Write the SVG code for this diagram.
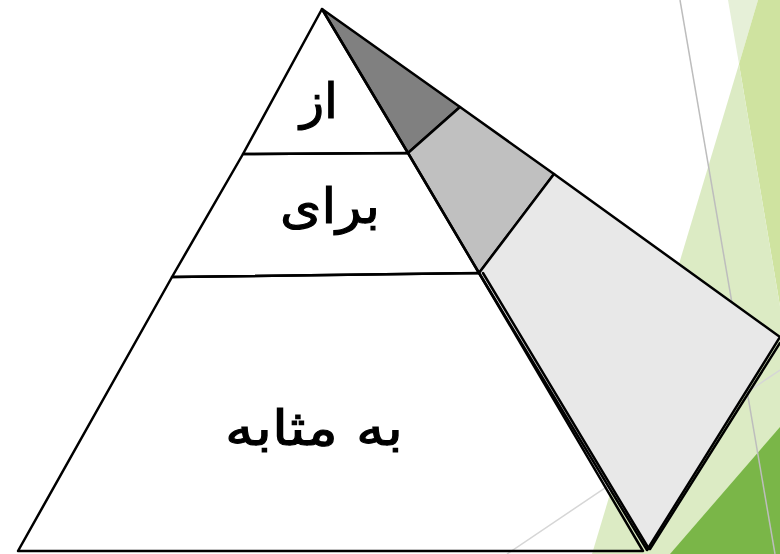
<svg xmlns="http://www.w3.org/2000/svg" width="780" height="554" viewBox="0 0 780 554">
  <style>
    .edge{fill:none;stroke:#000;stroke-width:2.5;stroke-linejoin:round;stroke-linecap:round}
    .face{stroke:#000;stroke-width:2.5;stroke-linejoin:round}
    .lbl{font-family:"DejaVu Sans","Noto Sans",sans-serif;font-size:49px;fill:#000;stroke:#000;stroke-width:1.1;text-anchor:middle}
  </style>
  <rect width="780" height="554" fill="#ffffff"/>
  <g id="background">
    <polygon points="728,0 758,0 739,64" fill="#e6f0d8"/>
    <polygon points="758,0 780,0 780,306 739,64" fill="#cfe3a0"/>
    <polygon points="739,64 780,306 780,554 592,554" fill="#dcebc4"/>
    <polygon points="670,554 780,427 780,554" fill="#7ab648"/>
    <line x1="680" y1="0" x2="775" y2="554" stroke="#bdbdbd" stroke-width="1.5"/>
    <line x1="507" y1="554" x2="780" y2="370" stroke="#d6d6d6" stroke-width="1.5"/>
  </g>
  <g id="side-top">
    <polygon class="face" points="322,9 460,107 408,153" fill="#808080"/>
  </g>
  <g id="side-middle">
    <polygon class="face" points="408,153 460,107 554,174 479,273" fill="#c0c0c0"/>
  </g>
  <g id="side-bottom">
    <polygon class="face" points="479,273 554,174 780,337 647,550" fill="#e8e8e8"/>
    <line class="edge" x1="483" y1="273" x2="649" y2="549"/>
    <line class="edge" x1="780" y1="343" x2="650" y2="549"/>
  </g>
  <g id="front-top">
    <polygon class="face" points="322,9 408,153 243,154" fill="none"/>
    <text class="lbl" x="319" y="118" direction="rtl" textLength="38" lengthAdjust="spacingAndGlyphs">از</text>
  </g>
  <g id="front-middle">
    <polygon class="face" points="243,154 408,153 479,273 172,277" fill="none"/>
    <text class="lbl" x="330" y="223" direction="rtl" textLength="100" lengthAdjust="spacingAndGlyphs">برای</text>
  </g>
  <g id="front-bottom">
    <polygon class="face" points="172,277 479,273 643,551 18,551" fill="none"/>
    <text class="lbl" x="314" y="445" direction="rtl" textLength="178" lengthAdjust="spacingAndGlyphs">به مثابه</text>
  </g>
</svg>
